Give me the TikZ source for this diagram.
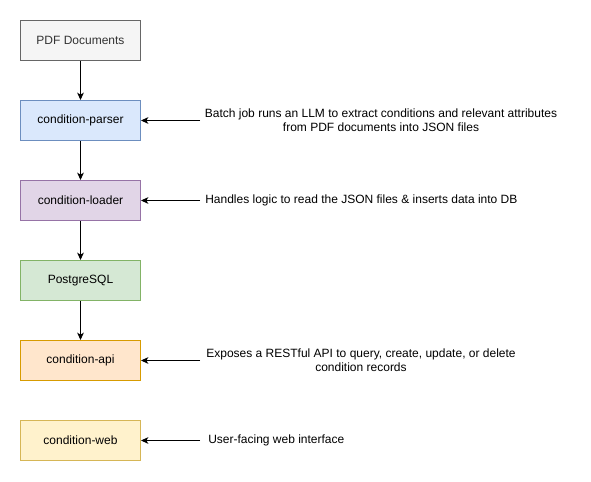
\documentclass[tikz,border=0pt]{standalone}
\usepackage{fontspec}
\setmainfont{Liberation Sans}
\usepackage{xcolor}
\usetikzlibrary{arrows.meta,positioning}
\definecolor{pdffill}{HTML}{F5F5F5}
\definecolor{pdfline}{HTML}{666666}
\definecolor{pdftext}{HTML}{333333}
\definecolor{parserfill}{HTML}{DAE8FC}
\definecolor{parserline}{HTML}{6C8EBF}
\definecolor{loaderfill}{HTML}{E1D5E7}
\definecolor{loaderline}{HTML}{9673A6}
\definecolor{dbfill}{HTML}{D5E8D4}
\definecolor{dbline}{HTML}{82B366}
\definecolor{apifill}{HTML}{FFE6CC}
\definecolor{apiline}{HTML}{D79B00}
\definecolor{webfill}{HTML}{FFF2CC}
\definecolor{webline}{HTML}{D6B656}

\begin{document}
\begin{tikzpicture}[x=0.75pt, y=-0.75pt, font=\fontsize{9pt}{10.5pt}\selectfont,
  svcbox/.style={draw, line width=0.75pt, minimum width=90pt, minimum height=30pt, inner sep=0pt},
  note/.style={align=center, inner sep=0pt},
  flow/.style={-{Stealth[length=5.5pt, width=5pt, inset=1.5pt]}, line width=0.75pt}]
  \useasboundingbox (0,0) rectangle (591,481);
  % Service chain
  \node[svcbox, fill=pdffill, draw=pdfline, text=pdftext] (pdf) at (80.5,40.5) {PDF Documents};
  \node[svcbox, fill=parserfill, draw=parserline] (parser) at (80.5,120.5) {condition-parser};
  \node[svcbox, fill=loaderfill, draw=loaderline] (loader) at (80.5,200.5) {condition-loader};
  \node[svcbox, fill=dbfill, draw=dbline] (db) at (80.5,280.5) {PostgreSQL};
  \node[svcbox, fill=apifill, draw=apiline] (api) at (80.5,360.5) {condition-api};
  \node[svcbox, fill=webfill, draw=webline] (web) at (80.5,440.5) {condition-web};
  \draw[flow] (pdf) -- (parser);
  \draw[flow] (parser) -- (loader);
  \draw[flow] (loader) -- (db);
  \draw[flow] (db) -- (api);
  % Notes
  \node[note] (parsernote) at (381,120.5) {Batch job runs an LLM to extract conditions and relevant attributes\\from PDF documents into JSON files};
  \node[note, anchor=west] (loadernote) at (205,200.5) {Handles logic to read the JSON files \& inserts data into DB};
  \node[note] (apinote) at (361,360.5) {Exposes a RESTful API to query, create, update, or delete\\condition records};
  \node[note, anchor=west] (webnote) at (208,440.5) {User-facing web interface};
  \coordinate (parserfrom) at (200,120.5);
  \coordinate (loaderfrom) at (200,200.5);
  \coordinate (apifrom) at (200,360.5);
  \coordinate (webfrom) at (200,440.5);
  \draw[flow] (parserfrom) -- (parser);
  \draw[flow] (loaderfrom) -- (loader);
  \draw[flow] (apifrom) -- (api);
  \draw[flow] (webfrom) -- (web);
\end{tikzpicture}
\end{document}
